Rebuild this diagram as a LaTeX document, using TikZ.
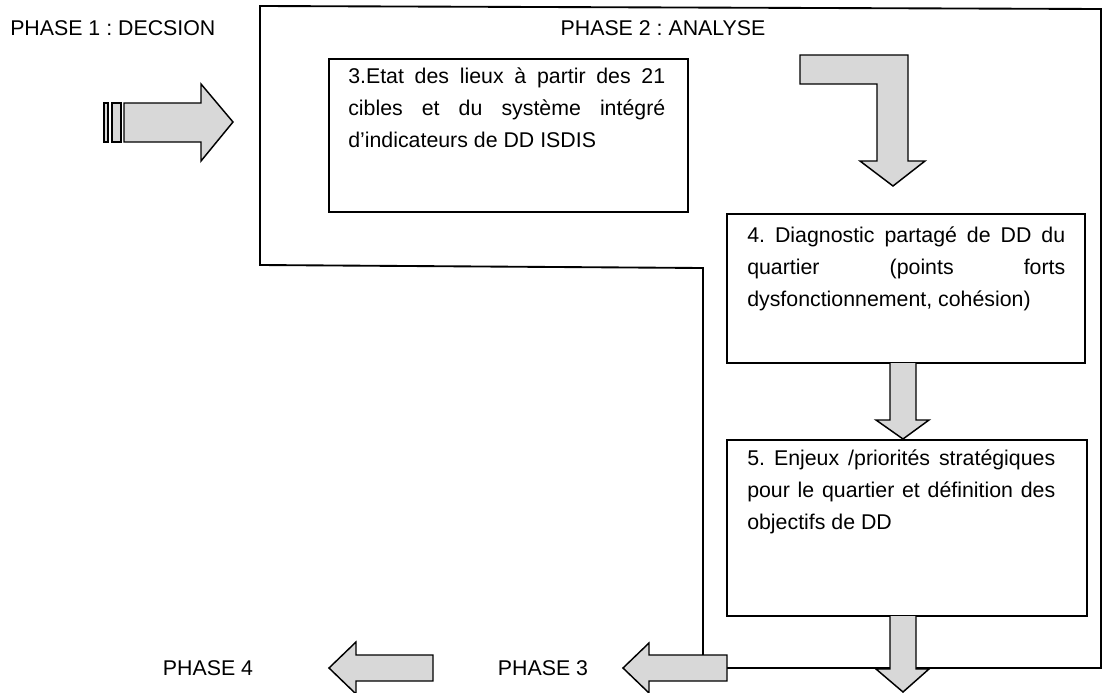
\documentclass[tikz,border=0pt]{standalone}
\usepackage{fontspec}
\setmainfont{Liberation Sans}
\definecolor{arrowgray}{HTML}{D8D8D8}
\frenchspacing
\begin{document}
\begin{tikzpicture}[x=0.75pt,y=-0.75pt,
  frame/.style={line width=1.4pt,line join=miter},
  boxnode/.style={draw,line width=1.4pt,anchor=north west,inner sep=0pt,outer sep=0pt},
  blockarrow/.style={draw,line width=1.1pt,fill=arrowgray,line join=miter},
  boxtext/.style={anchor=base west,inner sep=0pt,font=\fontsize{16}{24}\selectfont\frenchspacing,align=justify},
  phaselabel/.style={inner sep=0pt,font=\fontsize{16}{19}\selectfont\frenchspacing}]
\useasboundingbox (0,0) rectangle (1104,693);

% outline of phase 2
\draw[frame] (703,655) -- (703,268) -- (260,265) -- (260,6) -- (1101,9) -- (1101,668) -- (727,668);

% labels
\node[phaselabel,anchor=west] (p1) at (10,28) {PHASE 1 : DECSION};
\node[phaselabel] (p2) at (663,28) {PHASE 2 : ANALYSE};
\node[phaselabel] (p3) at (543,668) {PHASE 3};
\node[phaselabel] (p4) at (208,668) {PHASE 4};

% boxes
\node[boxnode,minimum width=269.25pt,minimum height=114.75pt] (b3) at (329,59) {};
\node[boxnode,minimum width=268.5pt,minimum height=111.75pt] (b4) at (727,214) {};
\node[boxnode,minimum width=270pt,minimum height=132pt] (b5) at (727,440) {};

\node[boxtext,text width=237.75pt] (t3) at (348,83)
  {3.Etat des lieux à partir des 21\linebreak cibles et du système intégré\linebreak d’indicateurs de DD ISDIS};
\node[boxtext,text width=238.5pt] (t4) at (747,242)
  {4. Diagnostic partagé de DD du\linebreak quartier (points forts\linebreak dysfonctionnement, cohésion)};
\node[boxtext,text width=231pt] (t5) at (747,465)
  {5. Enjeux /priorités stratégiques\linebreak pour le quartier et définition des\linebreak objectifs de DD};

% striped entry arrow
\draw[blockarrow] (104,103) rectangle (108,142);
\draw[blockarrow] (112,103) rectangle (121,142);
\draw[blockarrow] (124,103) -- (201,103) -- (201,84) -- (233,122) -- (201,161) -- (201,142) -- (124,142) -- cycle;

% bent arrow
\draw[blockarrow] (800,55) -- (908,55) -- (908,161) -- (925,161) -- (893,186) -- (860,161) -- (877,161) -- (877,84) -- (800,84) -- cycle;

% arrow 4 -> 5
\draw[blockarrow] (890,363) -- (890,420) -- (876,420) -- (903,439) -- (929,420) -- (916,420) -- (916,363);

% bottom down arrow
\draw[blockarrow] (890,616) -- (890,669) -- (876,669) -- (903,692) -- (929,669) -- (916,669) -- (916,616);

% phase 3 arrow
\draw[blockarrow] (727,655) -- (649,655) -- (649,643) -- (623,668) -- (649,693) -- (649,681) -- (727,681) -- cycle;

% phase 4 arrow
\draw[blockarrow] (433,655) -- (356,655) -- (356,642) -- (329,668) -- (356,694) -- (356,681) -- (433,681) -- cycle;
\end{tikzpicture}
\end{document}
